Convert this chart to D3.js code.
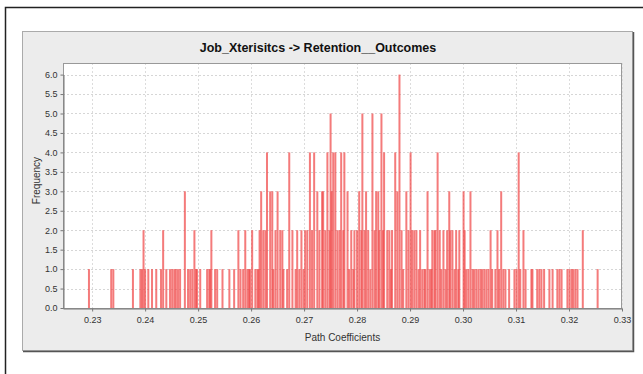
<!DOCTYPE html>
<html><head><meta charset="utf-8">
<script src="https://cdn.jsdelivr.net/npm/d3@7"></script>
<style>body{margin:0;background:#fff;}svg{display:block;}</style>
</head><body>
<script>
const title = "Job_Xterisitcs -> Retention__Outcomes";
const xLabel = "Path Coefficients";
const yLabel = "Frequency";
const xTicks = [0.23,0.24,0.25,0.26,0.27,0.28,0.29,0.30,0.31,0.32,0.33];
const yTicks = [0,0.5,1,1.5,2,2.5,3,3.5,4,4.5,5,5.5,6];
// bootstrap path coefficient bins (value) and their frequencies
const coef = [
0.2294,0.2336,0.2340,0.2377,0.2391,0.2394,0.2397,0.2400,0.2406,0.2413,0.2421,0.2430,0.2434,0.2440,
0.2447,0.2451,0.2455,0.2458,0.2462,0.2466,0.2475,0.2481,0.2485,0.2489,0.2493,0.2496,0.2498,0.2504,
0.2517,0.2521,0.2523,0.2525,0.2532,0.2536,0.2546,0.2559,0.2568,0.2576,0.2580,0.2585,0.2589,0.2593,
0.2596,0.2598,0.2602,0.2608,0.2612,0.2614,0.2616,0.2619,0.2623,0.2627,0.2630,0.2636,0.2640,0.2642,
0.2646,0.2650,0.2655,0.2659,0.2661,0.2668,0.2672,0.2678,0.2684,0.2687,0.2691,0.2695,0.2699,0.2702,
0.2706,0.2711,0.2715,0.2719,0.2725,0.2729,0.2734,0.2736,0.2740,0.2744,0.2748,0.2750,0.2752,0.2755,
0.2759,0.2763,0.2767,0.2770,0.2774,0.2776,0.2782,0.2785,0.2789,0.2793,0.2795,0.2800,0.2804,0.2808,
0.2810,0.2814,0.2817,0.2821,0.2825,0.2829,0.2833,0.2836,0.2840,0.2842,0.2846,0.2849,0.2851,0.2857,
0.2861,0.2864,0.2866,0.2872,0.2876,0.2880,0.2884,0.2887,0.2893,0.2897,0.2901,0.2904,0.2908,0.2912,
0.2916,0.2919,0.2923,0.2927,0.2929,0.2933,0.2937,0.2940,0.2942,0.2946,0.2948,0.2952,0.2956,0.2959,
0.2963,0.2967,0.2970,0.2974,0.2976,0.2980,0.2984,0.2987,0.2991,0.2993,0.3001,0.3003,0.3006,0.3010,
0.3014,0.3018,0.3021,0.3025,0.3029,0.3033,0.3036,0.3040,0.3044,0.3048,0.3052,0.3055,0.3061,0.3065,
0.3068,0.3072,0.3076,0.3080,0.3087,0.3097,0.3101,0.3105,0.3108,0.3114,0.3118,0.3129,0.3131,0.3140,
0.3144,0.3148,0.3153,0.3163,0.3169,0.3178,0.3182,0.3186,0.3197,0.3201,0.3205,0.3208,0.3212,0.3216,
0.3226,0.3254];
const freq = [
1,1,1,1,1,1,2,1,1,1,1,1,2,1,
1,1,1,1,1,1,3,1,1,1,2,1,1,1,
1,1,1,2,1,1,1,1,1,2,1,1,2,1,
1,1,2,1,1,1,2,3,2,2,4,3,3,1,
2,3,2,2,1,1,4,2,1,2,1,2,1,2,
2,4,2,4,3,2,3,3,2,4,2,5,3,4,
4,2,2,4,2,4,3,1,2,1,2,2,3,2,
5,2,3,2,1,5,2,3,3,2,5,2,4,2,
2,1,2,4,3,6,2,1,3,2,4,2,2,2,
1,2,1,1,1,3,1,1,2,2,2,4,2,1,
2,1,2,3,2,2,1,2,1,2,3,2,1,1,
3,1,1,1,1,1,1,1,1,1,2,1,1,2,
1,3,1,1,1,1,1,4,1,2,1,1,1,1,
1,1,1,1,1,1,1,1,1,1,1,1,1,1,
2,1];

const W = 643, H = 374;
const svg = d3.select("body").append("svg").attr("width", W).attr("height", H);
const font = "'Liberation Sans Narrow','Liberation Sans',Arial,sans-serif";

// outer frame
svg.append("path").attr("d", `M5.5,${H} V7.5 H${W}`).attr("fill","none").attr("stroke","#222").attr("stroke-width",1.5);
// panel
svg.append("rect").attr("x",22.5).attr("y",31.5).attr("width",610).attr("height",319)
  .attr("fill","#ececec").attr("stroke","#aaa");
svg.append("path").attr("d","M23,351.5 H633.5 V32").attr("fill","none").attr("stroke","#555").attr("stroke-width",1.5);

const m = {l:63, r:622, t:63, b:308};
const x = d3.scaleLinear().domain([0.2245, 0.33]).range([m.l, m.r]);
const y = d3.scaleLinear().domain([0, 6.0]).range([m.b, 74.6]);

svg.append("rect").attr("x",m.l).attr("y",m.t).attr("width",m.r-m.l).attr("height",m.b-m.t)
  .attr("fill","#fff");

// grid
svg.append("g").selectAll("line").data(yTicks.slice(1)).join("line")
  .attr("x1",m.l).attr("x2",m.r).attr("y1",d=>Math.round(y(d))+0.5).attr("y2",d=>Math.round(y(d))+0.5)
  .attr("stroke","#d6d6d6").attr("stroke-dasharray","2,2");
svg.append("g").selectAll("line").data(xTicks).join("line")
  .attr("y1",m.t).attr("y2",m.b).attr("x1",d=>Math.round(x(d))+0.5).attr("x2",d=>Math.round(x(d))+0.5)
  .attr("stroke","#dcdcdc").attr("stroke-dasharray","2,2");

// bars
const bw = 2.0;
svg.append("g").selectAll("rect").data(coef.map((c,i)=>({c, f:freq[i]}))).join("rect")
  .attr("x", d=>x(d.c)-bw/2).attr("width", bw)
  .attr("y", d=>y(d.f)).attr("height", d=>y(0)-y(d.f))
  .attr("fill","#f04848").attr("fill-opacity",0.72);

// plot border
svg.append("rect").attr("x",m.l+0.5).attr("y",m.t+0.5).attr("width",m.r-m.l-1).attr("height",m.b-m.t)
  .attr("fill","none").attr("stroke","#999");

// axes
const xAxis = d3.axisBottom(x).tickValues(xTicks).tickFormat(d3.format(".2f")).tickSize(3).tickSizeOuter(0);
const gx = svg.append("g").attr("transform",`translate(0,${m.b+0.5})`).call(xAxis);
const yAxis = d3.axisLeft(y).tickValues(yTicks).tickFormat(d3.format(".1f")).tickSize(3).tickSizeOuter(0);
const gy = svg.append("g").attr("transform",`translate(${m.l+0.5},0)`).call(yAxis);
[gx,gy].forEach(g=>{
  g.select(".domain").attr("stroke","#777");
  g.selectAll(".tick line").attr("stroke","#777");
  g.selectAll("text").attr("font-family",font).attr("font-size",9).attr("fill","#333");
});
gx.selectAll("text").attr("dy","0.95em");

// texts
svg.append("text").attr("x",318).attr("y",52).attr("text-anchor","middle")
  .attr("font-family","'Liberation Sans',Arial,sans-serif").attr("font-weight","bold").attr("font-size",12.5)
  .attr("fill","#111").text(title);
svg.append("text").attr("x",(m.l+m.r)/2).attr("y",341).attr("text-anchor","middle")
  .attr("font-family",font).attr("font-size",10).attr("fill","#333").text(xLabel);
svg.append("text").attr("transform",`translate(40,${(m.t+m.b)/2 - 5}) rotate(-90)`).attr("text-anchor","middle")
  .attr("font-family",font).attr("font-size",10).attr("fill","#333").text(yLabel);
</script>
</body></html>
